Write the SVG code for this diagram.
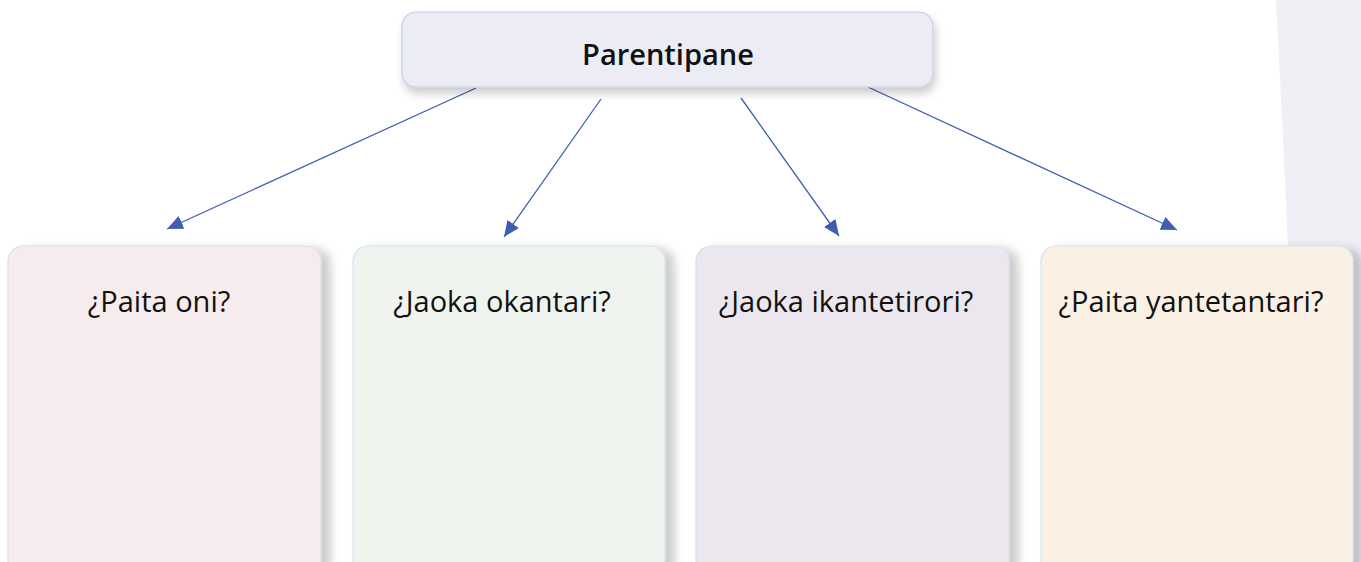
<svg xmlns="http://www.w3.org/2000/svg" width="1361" height="562" viewBox="0 0 1361 562">
<defs>
<style>
.t{font-family:"Open Sans","Liberation Sans",sans-serif;fill:#111;}
.title{font-size:29px;font-weight:600;}
.q{font-size:29px;}
.child{stroke:#d6e1ef;stroke-width:1.2;}
.conn{stroke:#3f5fae;stroke-width:1.3;fill:none;}
</style>
<filter id="shR" x="-10%" y="-10%" width="130%" height="120%">
<feDropShadow dx="9" dy="3" stdDeviation="5" flood-color="#000" flood-opacity="0.2"/>
</filter>
<filter id="shB" x="-10%" y="-20%" width="120%" height="160%">
<feDropShadow dx="2" dy="6" stdDeviation="4" flood-color="#000" flood-opacity="0.2"/>
</filter>
<marker id="ah" markerUnits="userSpaceOnUse" markerWidth="18" markerHeight="14" refX="16" refY="7" orient="auto">
<path d="M0,0 L16,7 L0,14 Z" fill="#3f5fae"/>
</marker>
</defs>
<rect width="1361" height="562" fill="#ffffff"/>
<path d="M1276,0 Q1290,260 1300,562 L1361,562 L1361,0 Z" fill="#eef0f6"/>
<g id="connectors">
<line class="conn" x1="476" y1="88" x2="167" y2="229" marker-end="url(#ah)"/>
<line class="conn" x1="601" y1="99" x2="504" y2="237" marker-end="url(#ah)"/>
<line class="conn" x1="741" y1="98" x2="839" y2="236" marker-end="url(#ah)"/>
<line class="conn" x1="868" y1="87" x2="1177" y2="230" marker-end="url(#ah)"/>
</g>
<g id="node-parentipane">
<rect x="402" y="12" width="531" height="75" rx="14" fill="#ececf5" stroke="#c8cbe8" stroke-width="1.2" filter="url(#shB)"/>
<text class="t title" x="668" y="65" text-anchor="middle">Parentipane</text>
</g>
<g id="node-paita-oni">
<rect class="child" x="8" y="246" width="313" height="330" rx="15" fill="#f7eced" filter="url(#shR)"/>
<text class="t q" x="159" y="312" text-anchor="middle">¿Paita oni?</text>
</g>
<g id="node-jaoka-okantari">
<rect class="child" x="353" y="246" width="312" height="330" rx="15" fill="#f0f4ef" filter="url(#shR)"/>
<text class="t q" x="502" y="312" text-anchor="middle">¿Jaoka okantari?</text>
</g>
<g id="node-jaoka-ikantetirori">
<rect class="child" x="696" y="246" width="313" height="330" rx="15" fill="#ece7ef" filter="url(#shR)"/>
<text class="t q" x="846" y="312" text-anchor="middle">¿Jaoka ikantetirori?</text>
</g>
<g id="node-paita-yantetantari">
<rect class="child" x="1041" y="246" width="312" height="330" rx="15" fill="#fbf0e4" filter="url(#shR)"/>
<text class="t q" x="1191" y="312" text-anchor="middle">¿Paita yantetantari?</text>
</g>
</svg>
